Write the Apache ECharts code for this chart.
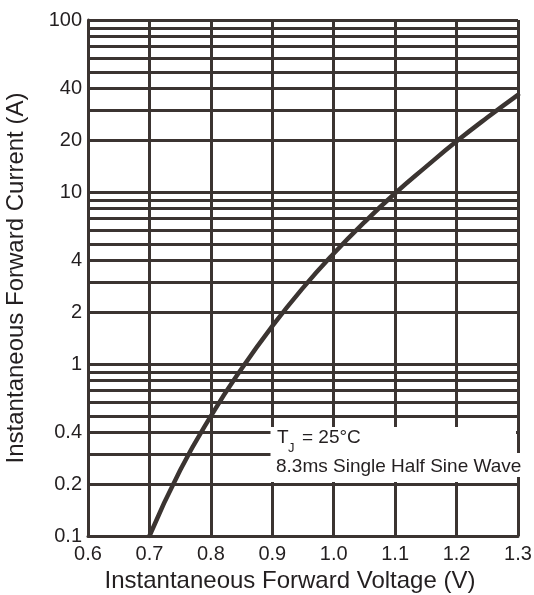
<!DOCTYPE html>
<html>
<head>
<meta charset="utf-8">
<script src="https://cdn.jsdelivr.net/npm/echarts@6/dist/echarts.min.js"></script>
<style>html,body{margin:0;padding:0;background:#fff}#c{width:534px;height:595px}</style>
</head>
<body>
<div id="c"></div>
<script>
// Forward voltage (V) vs instantaneous forward current (A)
const voltage = [0.70, 0.75, 0.80, 0.85, 0.90, 0.95, 1.00, 1.05, 1.10, 1.15, 1.20, 1.25, 1.30];
const current = [0.100, 0.241, 0.498, 0.939, 1.66, 2.77, 4.39, 6.68, 9.83, 14.0, 19.7, 27.1, 36.7];
const yLabelValues = [0.1, 0.2, 0.4, 1, 2, 4, 10, 20, 40, 100];
const yGridValues = [0.1,0.2,0.3,0.4,0.5,0.6,0.7,0.8,0.9,1,2,3,4,5,6,7,8,9,10,20,30,40,50,60,70,80,90,100];
const xTicks = [0.6, 0.7, 0.8, 0.9, 1.0, 1.1, 1.2, 1.3];
const xName = 'Instantaneous Forward Voltage (V)';
const yName = 'Instantaneous Forward Current (A)';
const note1 = 'T';
const note1sub = 'J';
const note1rest = '= 25°C';
const note2 = '8.3ms Single Half Sine Wave';

const ink = '#3b3431';
const txt = '#231f20';
const font = '"Liberation Sans", Arial, sans-serif';

const chart = echarts.init(document.getElementById('c'), null, {renderer: 'canvas'});
chart.setOption({
  animation: false,
  backgroundColor: '#fff',
  grid: {left: 88, right: 16, top: 20, bottom: 59, outerBoundsMode: 'none', containLabel: false},
  xAxis: {
    type: 'value', min: xTicks[0], max: xTicks[xTicks.length - 1], interval: 0.1,
    name: xName, nameLocation: 'middle', nameGap: 31,
    nameTextStyle: {fontFamily: font, fontSize: 24, color: txt, padding: [0, 26, 0, 0]},
    axisLine: {show: true, lineStyle: {color: ink, width: 3}},
    axisTick: {show: false},
    axisLabel: {fontFamily: font, fontSize: 20, color: txt, margin: 8,
      formatter: v => (Math.round(v * 10) / 10).toFixed(1)},
    splitLine: {show: true, lineStyle: {color: ink, width: 3}}
  },
  yAxis: {
    type: 'log', logBase: 10, min: 0.1, max: 100,
    name: yName, nameLocation: 'middle', nameGap: 60,
    nameTextStyle: {fontFamily: font, fontSize: 24, color: txt},
    axisLine: {show: true, lineStyle: {color: ink, width: 3}},
    axisTick: {show: false, customValues: yGridValues},
    axisLabel: {fontFamily: font, fontSize: 20, color: txt, margin: 6,
      customValues: yLabelValues,
      formatter: v => String(parseFloat(Number(v).toPrecision(3)))},
    splitLine: {show: true, lineStyle: {color: ink, width: 3}}
  },
  series: [{
    type: 'line', smooth: 0.5, symbol: 'none',
    data: voltage.map((v, i) => [v, current[i]]),
    lineStyle: {color: ink, width: 4.5, join: 'round', cap: 'round'},
    z: 3
  }],
  graphic: [
    {type: 'rect', z: 100, shape: {x: 270.5, y: 427, width: 245.5, height: 55}, style: {fill: '#fff'}},
    {type: 'rect', z: 100, shape: {x: 515, y: 453, width: 14, height: 24}, style: {fill: '#fff'}},
    {type: 'text', z: 101, x: 277, y: 438, style: {text: note1, font: '19px ' + font, fill: txt, verticalAlign: 'middle'}},
    {type: 'text', z: 101, x: 288, y: 448, style: {text: note1sub, font: '13px ' + font, fill: txt, verticalAlign: 'middle'}},
    {type: 'text', z: 101, x: 302, y: 438, style: {text: note1rest, font: '19px ' + font, fill: txt, verticalAlign: 'middle'}},
    {type: 'text', z: 101, x: 276, y: 466.5, style: {text: note2, font: '19px ' + font, fill: txt, verticalAlign: 'middle'}}
  ]
});
</script>
</body>
</html>
